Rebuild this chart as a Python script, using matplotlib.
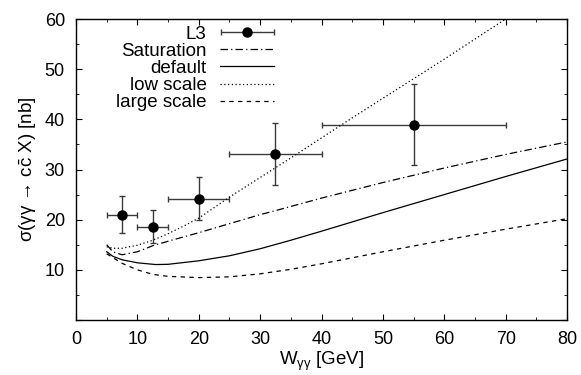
import matplotlib
matplotlib.use("Agg")
import numpy as np
import matplotlib.pyplot as plt
from matplotlib.ticker import MultipleLocator
from matplotlib.legend_handler import HandlerErrorbar

plt.rcParams['font.family'] = ['Liberation Sans', 'DejaVu Sans']
plt.rcParams['mathtext.fontset'] = 'custom'
plt.rcParams['mathtext.rm'] = 'Liberation Sans'
plt.rcParams['mathtext.it'] = 'Liberation Sans'
plt.rcParams['mathtext.bf'] = 'Liberation Sans'

# L3 data
l3_x = [7.5, 12.5, 20.0, 32.5, 55.0]
l3_y = [21.0, 18.6, 24.2, 33.0, 38.9]
l3_xlo = [5.0, 10.0, 15.0, 25.0, 40.0]
l3_xhi = [10.0, 15.0, 25.0, 40.0, 70.0]
l3_ylo = [17.4, 15.3, 19.9, 26.9, 30.9]
l3_yhi = [24.8, 21.9, 28.5, 39.3, 47.1]

# Saturation
sat_x = [5, 6, 7.5, 10, 12.5, 15, 20, 25, 30, 32.5, 40, 50, 60, 70, 80]
sat_y = [15.0, 13.6, 13.0, 13.6, 14.8, 15.7, 17.4, 19.2, 21.0, 21.8, 24.3, 27.4, 30.3, 33.0, 35.5]

# default
def_x = [5, 6, 7.5, 10, 13, 15, 20, 25, 30, 35, 40, 50, 60, 70, 80]
def_y = [13.6, 12.7, 12.0, 11.4, 11.05, 11.1, 11.8, 12.8, 14.2, 15.9, 17.7, 21.4, 25.0, 28.6, 32.1]

# low scale
low_x = [5, 6, 7.5, 10, 12.5, 15, 17.5, 20, 22.5, 25, 30, 35, 40, 45, 50, 55, 60, 65, 70, 72]
low_y = [14.6, 14.3, 14.3, 14.9, 15.9, 17.2, 18.7, 20.3, 22.4, 24.5, 28.4, 32.3, 36.3, 40.3, 44.2, 48.1, 52.0, 56.0, 60.0, 61.6]

# large scale
lrg_x = [5, 7.5, 10, 12.5, 15, 20, 25, 30, 35, 40, 50, 60, 70, 80]
lrg_y = [13.2, 11.3, 10.0, 9.1, 8.7, 8.45, 8.6, 9.2, 10.1, 11.2, 13.6, 15.9, 18.1, 20.2]

fig = plt.figure(figsize=(5.81, 3.75), dpi=100)
ax = fig.add_axes([0.1308, 0.1467, 0.8452, 0.8026])

xerr = [[x - lo for x, lo in zip(l3_x, l3_xlo)], [hi - x for x, hi in zip(l3_x, l3_xhi)]]
yerr = [[y - lo for y, lo in zip(l3_y, l3_ylo)], [hi - y for y, hi in zip(l3_y, l3_yhi)]]
eb_style = dict(fmt='o', color='black', ecolor='#3a3a3a', markersize=6.5,
                elinewidth=1.0, capsize=2.5, capthick=1.0)
ax.errorbar(l3_x, l3_y, xerr=xerr, yerr=yerr, **eb_style)
# legend proxy (horizontal bar only, like the reference key)
proxy = ax.errorbar([np.nan], [np.nan], xerr=[[1.0], [1.0]], **eb_style)

l_sat, = ax.plot(sat_x, sat_y, color='black', lw=0.9, dashes=(6, 2.5, 1, 2.5))
l_def, = ax.plot(def_x, def_y, color='black', lw=0.9)
l_low, = ax.plot(low_x, low_y, color='black', lw=0.9, dashes=(1, 2))
l_lrg, = ax.plot(lrg_x, lrg_y, color='black', lw=0.9, dashes=(3.5, 3.5))

ax.set_xlim(0, 80)
ax.set_ylim(0, 60)
ax.xaxis.set_major_locator(MultipleLocator(10))
ax.xaxis.set_minor_locator(MultipleLocator(5))
ax.yaxis.set_major_locator(MultipleLocator(10))
ax.yaxis.set_minor_locator(MultipleLocator(5))
ax.yaxis.set_major_formatter(plt.FuncFormatter(lambda v, p: '' if v == 0 else f'{v:.0f}'))
ax.tick_params(which='both', direction='in', top=True, right=True, labelsize=13)
ax.tick_params(axis='x', which='major', pad=8)
ax.tick_params(axis='y', which='major', pad=8)
ax.tick_params(which='major', length=4)
ax.tick_params(which='minor', length=2.5)
for s in ax.spines.values():
    s.set_linewidth(1.0)

ax.set_xlabel('W$_{\\rm γγ}$ [GeV]', fontsize=13.5, labelpad=1)
ax.set_ylabel('σ(γγ → c$\\bar{\\rm c}$ X) [nb]', fontsize=13.5, labelpad=4)

fs = 13.5
leg = ax.legend([proxy, l_sat, l_def, l_low, l_lrg],
                ['L3', 'Saturation', 'default', 'low scale', 'large scale'],
                loc='upper right', bbox_to_anchor=(0.403, 0.978), frameon=False,
                markerfirst=False, fontsize=fs, handlelength=2.85, handletextpad=0.75,
                labelspacing=0.0, borderpad=0, borderaxespad=0,
                handler_map={type(proxy): HandlerErrorbar(xerr_size=1.42)})
for t in leg.get_texts():
    t.set_ha('right')

fig.savefig('out.png', dpi=100)
